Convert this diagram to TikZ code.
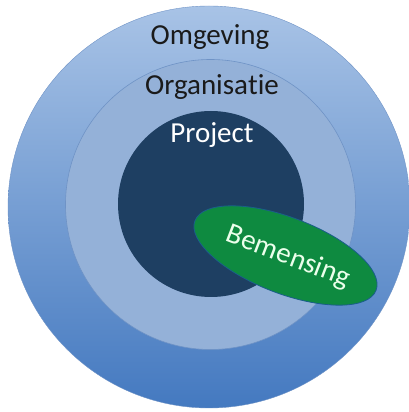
\documentclass[tikz,border=0pt]{standalone}
\usepackage{fontspec}
\setmainfont[Ligatures={NoCommon,NoDiscretionary}]{Carlito}
\usetikzlibrary{shapes.geometric}
\definecolor{outtop}{HTML}{A8C3E6}
\definecolor{outbot}{HTML}{4479C0}
\definecolor{midc}{HTML}{94B1D8}
\definecolor{midb}{HTML}{6F93C6}
\definecolor{innc}{HTML}{1E3F62}
\definecolor{grn}{HTML}{0E8A40}
\definecolor{grnb}{HTML}{1A5E8A}
\definecolor{txtd}{HTML}{1A1A1A}
\tikzset{
  lbl/.style={font=\fontsize{29}{30}\selectfont, inner sep=0pt},
}
\begin{document}
\begin{tikzpicture}[x=1pt,y=1pt]
\useasboundingbox (0,0) rectangle (409,412);
% outer circle
\node[circle, minimum size=402pt, inner sep=0pt, top color=outtop, bottom color=outbot, draw=midb, line width=0.4pt] (outer) at (209,205) {};
% middle circle
\node[circle, minimum size=290pt, inner sep=0pt, fill=midc, draw=midb, line width=0.6pt] (middle) at (210.5,207.5) {};
% inner circle
\node[circle, minimum size=186pt, inner sep=0pt, fill=innc] (inner) at (211,208) {};
% ellipse
\node[ellipse, minimum width=194pt, minimum height=76pt, inner sep=0pt, fill=grn, draw=grnb, line width=0.8pt, rotate=-21] (bem) at (285.5,156.5) {};
\node[lbl, text=txtd] (omg) at (210,375) {Omgeving};
\node[lbl, text=txtd] (org) at (212,325) {Organisa\kern0pt tie};
\node[lbl, text=white] (proj) at (212,277) {Project};
\node[lbl, text=white!92!green, rotate=-21] (bemt) at (288,155) {Bemensing};
\end{tikzpicture}
\end{document}
